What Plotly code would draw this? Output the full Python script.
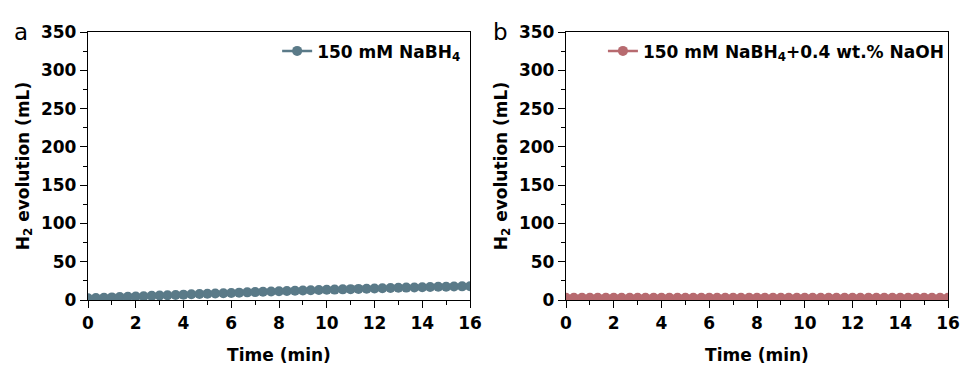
import plotly.graph_objects as go

time_min = [0.00, 0.33, 0.67, 1.00, 1.33, 1.67, 2.00, 2.33, 2.67, 3.00, 3.33, 3.67,
            4.00, 4.33, 4.67, 5.00, 5.33, 5.67, 6.00, 6.33, 6.67, 7.00, 7.33, 7.67,
            8.00, 8.33, 8.67, 9.00, 9.33, 9.67, 10.00, 10.33, 10.67, 11.00, 11.33, 11.67,
            12.00, 12.33, 12.67, 13.00, 13.33, 13.67, 14.00, 14.33, 14.67, 15.00, 15.33, 15.67, 16.00]

h2_nabh4 = [2.2, 2.6, 3.0, 3.4, 3.8, 4.2, 4.6, 5.0, 5.4, 5.8, 6.2, 6.6,
            7.0, 7.4, 7.8, 8.1, 8.5, 8.9, 9.2, 9.6, 10.0, 10.3, 10.7, 11.0,
            11.4, 11.7, 12.0, 12.4, 12.7, 13.0, 13.3, 13.6, 13.9, 14.2, 14.5, 14.8,
            15.1, 15.4, 15.6, 15.9, 16.2, 16.4, 16.7, 16.9, 17.2, 17.4, 17.6, 17.8, 18.0]

h2_nabh4_naoh = [3.0, 3.0, 3.0, 3.0, 3.0, 3.0, 3.0, 3.0, 3.0, 3.0, 3.0, 3.0,
                 3.0, 3.0, 3.0, 3.0, 3.0, 3.0, 3.0, 3.0, 3.0, 3.0, 3.0, 3.0,
                 3.0, 3.0, 3.0, 3.0, 3.0, 3.0, 3.0, 3.0, 3.0, 3.0, 3.0, 3.0,
                 3.0, 3.0, 3.0, 3.0, 3.0, 3.0, 3.0, 3.0, 3.0, 3.0, 3.0, 3.0, 3.0]

x_ticks = [0, 2, 4, 6, 8, 10, 12, 14, 16]
y_ticks = [0, 50, 100, 150, 200, 250, 300, 350]

C1 = "#5a7a88"
C2 = "#b76a6f"
FONT = "DejaVu Sans, Liberation Sans, Arial, sans-serif"

fig = go.Figure()
fig.add_trace(go.Scatter(x=time_min, y=h2_nabh4, mode="lines+markers",
                         name="<b>150 mM NaBH<sub>4</sub></b>",
                         line=dict(color=C1, width=2.5),
                         marker=dict(color=C1, size=10, symbol="circle"),
                         xaxis="x", yaxis="y", legend="legend"))
fig.add_trace(go.Scatter(x=time_min, y=h2_nabh4_naoh, mode="lines+markers",
                         name="<b>150 mM NaBH<sub>4</sub>+0.4 wt.% NaOH</b>",
                         line=dict(color=C2, width=2.5),
                         marker=dict(color=C2, size=10, symbol="circle"),
                         xaxis="x2", yaxis="y2", legend="legend2"))

W, H = 962, 369
dom1 = [88 / W, 470 / W]
dom2 = [566 / W, 948 / W]

def xax(domain, anchor):
    return dict(domain=domain, anchor=anchor, range=[0, 16], tickvals=x_ticks,
                ticks="outside", ticklen=7, tickwidth=1.3, tickcolor="black",
                showline=True, linecolor="black", linewidth=1.3, mirror=True,
                showgrid=False, zeroline=False, automargin=False,
                tickfont=dict(family=FONT, size=17, color="black", weight="bold"),
                title=dict(text="<b>Time (min)</b>", standoff=17,
                           font=dict(family=FONT, size=17, color="black")),
                minor=dict(ticks="outside", ticklen=4, dtick=1, tickcolor="black", tickwidth=1.3))

def yax(anchor):
    return dict(domain=[0, 1], anchor=anchor, range=[0, 350], tickvals=y_ticks,
                ticks="outside", ticklen=7, tickwidth=1.3, tickcolor="black",
                showline=True, linecolor="black", linewidth=1.3, mirror=True,
                showgrid=False, zeroline=False, automargin=False,
                tickfont=dict(family=FONT, size=17, color="black", weight="bold"),
                title=dict(text="<b>H<sub>2</sub> evolution (mL)</b>", standoff=7,
                           font=dict(family=FONT, size=17, color="black")),
                minor=dict(ticks="outside", ticklen=4, dtick=25, tickcolor="black", tickwidth=1.3))

legend_common = dict(xanchor="right", yanchor="top", bgcolor="rgba(0,0,0,0)",
                     font=dict(family=FONT, size=17, color="black"),
                     itemwidth=30, tracegroupgap=0)

fig.update_layout(
    width=W, height=H,
    showlegend=True,
    margin=dict(l=0, r=0, t=32, b=69),
    paper_bgcolor="white", plot_bgcolor="white",
    xaxis=xax(dom1, "y"), yaxis=yax("x"),
    xaxis2=xax(dom2, "y2"), yaxis2=yax("x2"),
    legend=dict(x=dom1[1] - 0.004, y=0.995, **legend_common),
    legend2=dict(x=dom2[1] + 0.002, y=0.995, **legend_common),
    annotations=[
        dict(text="a", x=12 / W, y=1.0, xref="paper", yref="paper", xanchor="left", yanchor="middle",
             showarrow=False, font=dict(family=FONT, size=23, color="black")),
        dict(text="b", x=491 / W, y=1.0, xref="paper", yref="paper", xanchor="left", yanchor="middle",
             showarrow=False, font=dict(family=FONT, size=23, color="black")),
    ],
)

fig.write_html("out.html", config={"displayModeBar": False},
               post_script="document.body.style.margin='0px';")
